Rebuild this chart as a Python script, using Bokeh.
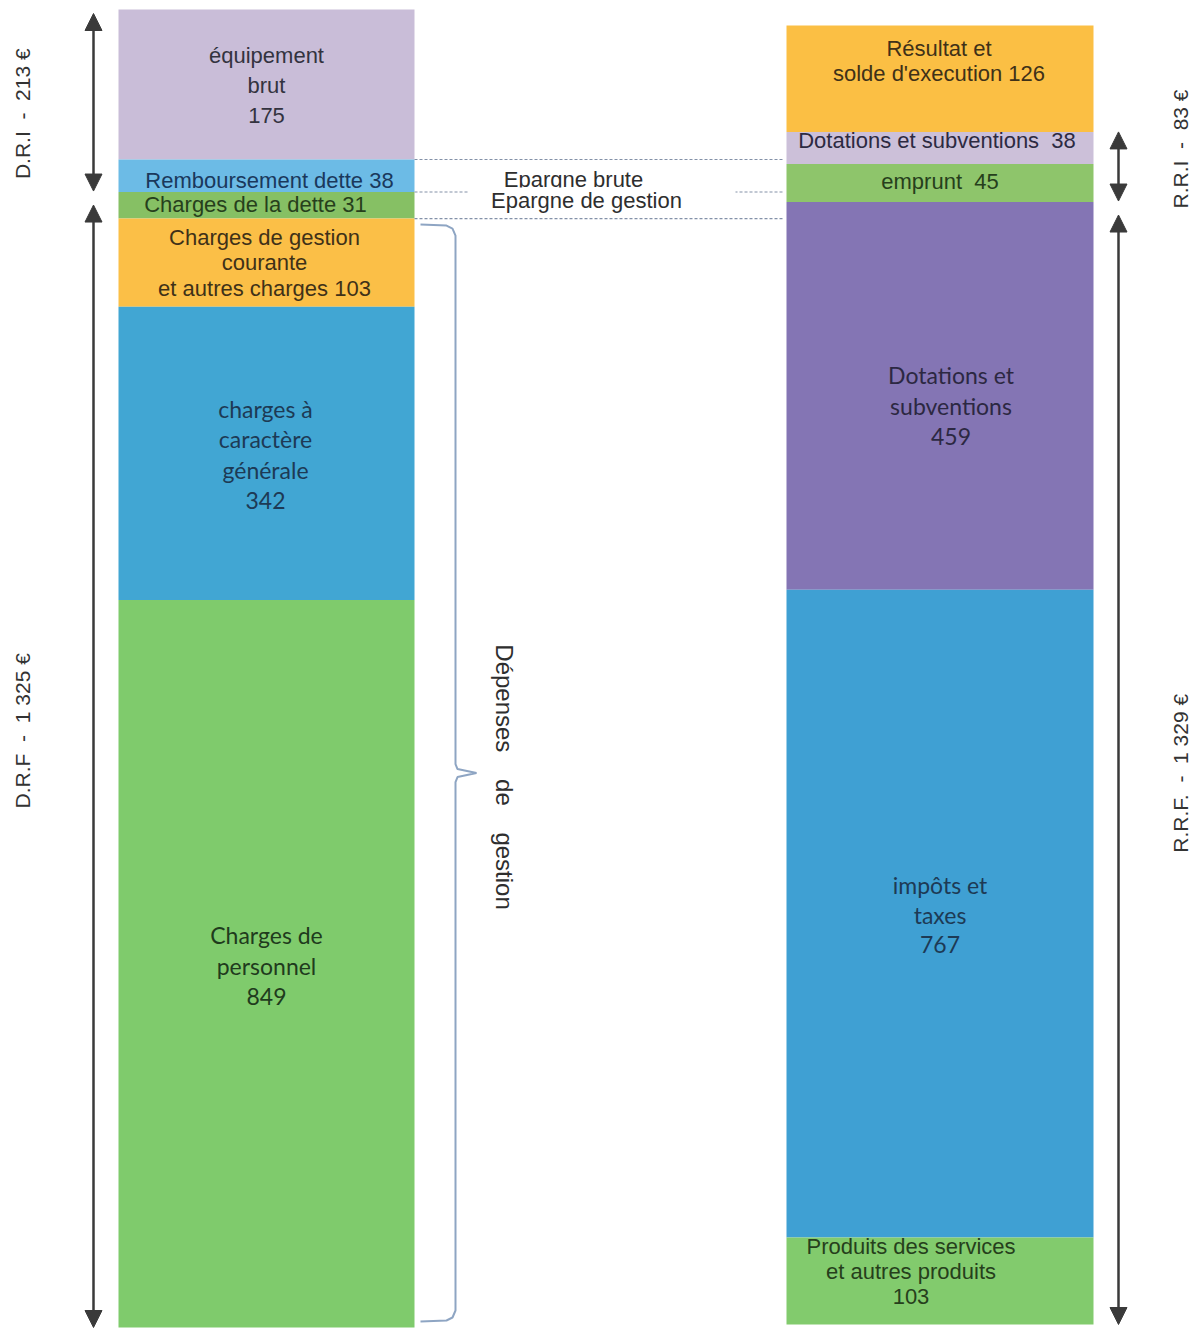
import math
from bokeh.plotting import figure
from bokeh.models import Range1d, Arrow, NormalHead, ColumnDataSource
from bokeh.core.properties import value
from bokeh.embed import file_html
from bokeh.resources import INLINE

NB = "\u00a0"

# ---------------- data ----------------
depenses_labels = [
    "équipement\nbrut\n{}",
    "Remboursement dette {}",
    "Charges de la dette {}",
    "Charges de gestion\ncourante\net autres charges {}",
    "charges à\ncaractère\ngénérale\n{}",
    "Charges de\npersonnel\n{}",
]
depenses_values = [175, 38, 31, 103, 342, 849]

recettes_labels = [
    "Résultat et\nsolde d'execution {}",
    "Dotations et subventions" + NB + " {}",
    "emprunt" + NB + " {}",
    "Dotations et\nsubventions\n{}",
    "impôts et\ntaxes\n{}",
    "Produits des services\net autres produits\n{}",
]
recettes_values = [126, 38, 45, 459, 767, 103]

# groups (name, first index, end index)
depenses_groups = [("D.R.I", 0, 2), ("D.R.F", 2, 6)]
recettes_groups = [("R.R.I", 1, 3), ("R.R.F.", 3, 6)]

epargne_texts = ["Epargne brute", "Epargne de gestion"]
connector_idx = [1, 2, 3]          # left-bar boundaries joined by dashed lines
brace_idx = (3, 6)                 # segments covered by the brace
brace_text = "Dépenses" + NB * 3 + " de" + NB * 3 + " gestion"

# ---------------- layout / style ----------------
W, H = 1197, 1329
LX0, LX1 = 118, 414
RX0, RX1 = 786, 1093
L_TOP, L_BOT = 9, 1327
R_TOP, R_BOT = 25, 1324

left_colors = ["#c9bdd8", "#6cbbe6", "#86c064", "#fbbf47", "#41a6d3", "#7fcb6c"]
right_colors = ["#fbbf44", "#ccc0d9", "#8ec56b", "#8475b4", "#3fa0d3", "#82cb6d"]

ARIAL = "Liberation Sans"
CALI = "Lato"
left_style = [
    dict(font=ARIAL, size=22, lh=30, color="#33333f", dx=0, dy=1),
    dict(font=ARIAL, size=22, lh=25, color="#1a385c", dx=3, dy=5),
    dict(font=ARIAL, size=22, lh=25, color="#263f1c", dx=-11, dy=-1),
    dict(font=ARIAL, size=22, lh=25.5, color="#3f3118", dx=-2, dy=0),
    dict(font=CALI, size=23, lh=30.5, color="#1d3a55", dx=-1, dy=1),
    dict(font=CALI, size=23, lh=30.5, color="#1f3b1d", dx=0, dy=2),
]
right_style = [
    dict(font=ARIAL, size=22, lh=25, color="#3f3118", dx=-1, dy=-18),
    dict(font=ARIAL, size=22, lh=25, color="#2d2a42", dx=-3, dy=-7),
    dict(font=ARIAL, size=22, lh=25, color="#263f1c", dx=0, dy=-2),
    dict(font=CALI, size=23, lh=30.5, color="#2c2842", dx=11, dy=10),
    dict(font=CALI, size=23, lh=30, color="#1d3a55", dx=0, dy=1),
    dict(font=ARIAL, size=22, lh=25, color="#263f1c", dx=-29, dy=-10),
]


def cum(vals):
    s = [0]
    for v in vals:
        s.append(s[-1] + v)
    return s


lc = cum(depenses_values)
rc = cum(recettes_values)
L_SCALE = (L_BOT - L_TOP) / lc[-1]
R_SCALE = (R_BOT - R_TOP) / rc[-1]


def l_px(v):
    return L_TOP + v * L_SCALE


def l_val(px):
    return (px - L_TOP) / L_SCALE


def r_px(v):
    return R_TOP + v * R_SCALE


def r_val(px):
    return (px - R_TOP) / R_SCALE


p = figure(width=W, height=H, output_backend="svg", toolbar_location=None,
           x_range=Range1d(0, W), y_range=Range1d(l_val(H), l_val(0)),
           x_axis_location=None, y_axis_location=None, min_border=0,
           outline_line_color=None, background_fill_color="white",
           border_fill_color="white")
p.extra_y_ranges = {"right": Range1d(r_val(H), r_val(0))}
p.grid.visible = False

# bars
p.quad(source=ColumnDataSource(dict(t=lc[:-1], b=lc[1:], c=left_colors)),
       left=LX0, right=LX1, top="t", bottom="b", fill_color="c", line_color=None)
p.quad(source=ColumnDataSource(dict(t=rc[:-1], b=rc[1:], c=right_colors)),
       left=RX0, right=RX1, top="t", bottom="b", fill_color="c", line_color=None,
       y_range_name="right")


def label_rows(templates, values, cumv, styles, xc, px_fn, val_fn):
    rows = dict(x=[], y=[], text=[], font=[], size=[], color=[])
    for i, (t, v) in enumerate(zip(templates, values)):
        st = styles[i]
        lines = t.format(v).split("\n")
        cy = px_fn((cumv[i] + cumv[i + 1]) / 2) + st["dy"]
        n = len(lines)
        for k, line in enumerate(lines):
            rows["x"].append(xc + st["dx"])
            rows["y"].append(val_fn(cy + (k - (n - 1) / 2) * st["lh"]))
            rows["text"].append(line)
            rows["font"].append(st["font"])
            rows["size"].append(f"{st['size']}px")
            rows["color"].append(st["color"])
    return ColumnDataSource(rows)


p.text(source=label_rows(depenses_labels, depenses_values, lc, left_style,
                         (LX0 + LX1) / 2, l_px, l_val),
       x="x", y="y", text="text", text_font="font", text_font_size="size",
       text_color="color", text_align="center", text_baseline="middle")
p.text(source=label_rows(recettes_labels, recettes_values, rc, right_style,
                         (RX0 + RX1) / 2, r_px, r_val),
       x="x", y="y", text="text", text_font="font", text_font_size="size",
       text_color="color", text_align="center", text_baseline="middle",
       y_range_name="right")

# arrows and side labels
AC = "#3a3a3a"
GAP = 13


def fmt(n):
    return f"{n:,}".replace(",", " ")


def add_arrows(groups, cumv, x, px_fn, val_fn, rng, lab_x, lab_dy):
    for gi, (name, a, b) in enumerate(groups):
        if gi == 0:
            y0 = px_fn(cumv[a]) + (4 if a == 0 else 0)
            y1 = px_fn(cumv[b]) - 1
        else:
            y0 = px_fn(cumv[a]) + GAP
            y1 = px_fn(cumv[b])
        kw = {} if rng is None else dict(y_range_name=rng)
        p.add_layout(Arrow(
            start=NormalHead(size=17, fill_color=AC, line_color=AC),
            end=NormalHead(size=17, fill_color=AC, line_color=AC),
            x_start=x, x_end=x, y_start=val_fn(y0), y_end=val_fn(y1),
            line_color=AC, line_width=2.5, **kw))
        total = cumv[b] - cumv[a]
        cy = px_fn((cumv[a] + cumv[b]) / 2) + lab_dy[gi]
        p.text(x=[lab_x], y=[val_fn(cy)],
               text=[f"{name}{NB} -{NB} {fmt(total)} €"],
               angle=math.pi / 2, text_align="center", text_baseline="middle",
               text_font=value(ARIAL), text_font_size="21px", text_color="#333333",
               **kw)


add_arrows(depenses_groups, lc, 93, l_px, l_val, None, 22, [13, -29])
add_arrows(recettes_groups, rc, 1118, r_px, r_val, "right", 1180, [-18, 10])

# dashed connectors + epargne texts
ys = [lc[i] for i in connector_idx]
p.segment(x0=[LX1] * 3, x1=[RX0 - 2] * 3, y0=ys, y1=ys, line_color="#8391a8",
          line_width=1.1, line_dash="3 2")
mid_px = l_px(lc[connector_idx[1]])
p.text(x=[573], y=[l_val(mid_px - 12.5)], text=[epargne_texts[0]],
       text_align="center", text_baseline="middle", text_font=value(ARIAL),
       text_font_size="22px", text_color="#2e2e2e")
p.quad(left=[468], right=[735], top=[l_val(mid_px - 4.5)], bottom=[l_val(mid_px + 21)],
       fill_color="white", line_color=None)
p.text(x=[586], y=[l_val(mid_px + 8)], text=[epargne_texts[1]],
       text_align="center", text_baseline="middle", text_font=value(ARIAL),
       text_font_size="22px", text_color="#2e2e2e")

# brace
yt = l_px(lc[brace_idx[0]]) + 6
yb = l_px(lc[brace_idx[1]]) - 6
ym = (yt + yb) / 2
bx = [420, 446, 452, 455, 455, 457, 476, 457, 455, 455, 452, 446, 420]
by = [yt, yt + 1, yt + 4, yt + 11, ym - 9, ym - 4, ym, ym + 4, ym + 9,
      yb - 11, yb - 4, yb - 1, yb]
p.line(x=bx, y=[l_val(v) for v in by], line_color="#8ea5c3", line_width=2)
p.text(x=[504], y=[l_val(ym + 4)], text=[brace_text], angle=-math.pi / 2,
       text_align="center", text_baseline="middle", text_font=value(ARIAL),
       text_font_size="24px", text_color="#2e2e2e")

open("out.html", "w").write(file_html(p, INLINE))
